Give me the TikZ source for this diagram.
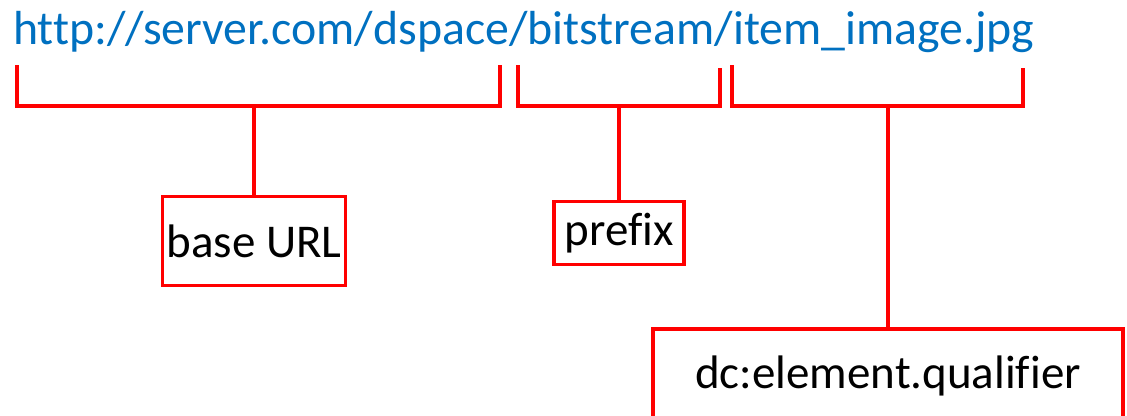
\documentclass[tikz,border=0pt]{standalone}
\usepackage{fontspec}
\setmainfont{Carlito}[Ligatures=CommonOff]
\usepackage{xcolor}
\usetikzlibrary{positioning}
\definecolor{urlblue}{HTML}{0070C0}

\tikzset{
  brace/.style={draw=red, line width=3.5pt},
  partbox/.style={draw=red, line width=3.5pt, inner sep=0pt,
    font=\fontsize{47}{56}\selectfont},
}

\begin{document}
\begin{tikzpicture}[x=1pt, y=-1pt]
\useasboundingbox (0,0) rectangle (1127,415);
\clip (0,0) rectangle (1127,415);

\node[anchor=base west, inner sep=0pt, text=urlblue,
  font=\fontsize{47.8}{56}\selectfont] (url) at (13,44)
  {http://server.com/dspace/bitstream/item\_image.jpg};

% brackets under the url parts
\coordinate (b1l) at (17,65);
\coordinate (b1r) at (500,65);
\coordinate (b1m) at (254,106);
\coordinate (b2l) at (518,65);
\coordinate (b2r) at (720,68);
\coordinate (b2m) at (619,106);
\coordinate (b3l) at (732,65);
\coordinate (b3r) at (1023,68);
\coordinate (b3m) at (888,106);

\draw[brace] (b1l) -- (b1l |- b1m) -| (b1r);
\draw[brace] (b2l) -- (b2l |- b2m) -| (b2r);
\draw[brace] (b3l) -- (b3l |- b3m) -| (b3r);

% boxes
\node[partbox, minimum width=183pt, minimum height=89pt] (base) at (254,241) {base URL};
\node[partbox, minimum width=130pt, minimum height=63pt] (prefix) at (619,233) {prefix};
\node[partbox, minimum width=470pt, minimum height=94pt] (dcfield) at (888,376) {dc:element.qualifier};

\draw[brace] (b1m) -- (base.north);
\draw[brace] (b2m) -- (prefix.north);
\draw[brace] (b3m) -- (dcfield.north);

\end{tikzpicture}
\end{document}
